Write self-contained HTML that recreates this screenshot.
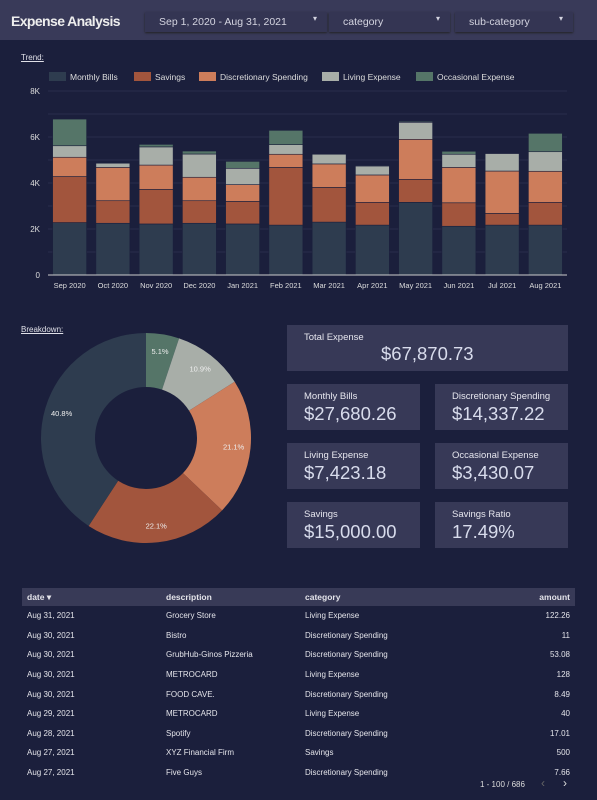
<!DOCTYPE html>
<html><head><meta charset="utf-8"><style>
*{box-sizing:border-box;margin:0;padding:0}
body{width:597px;height:800px;background:#1b1f3c;font-family:"Liberation Sans",sans-serif;color:#e4e4ea;position:relative;overflow:hidden}
.hdr{position:absolute;left:0;top:0;width:597px;height:40px;background:#393a59}
.title{position:absolute;left:11px;top:13px;font-size:14px;font-weight:bold;color:#eee;letter-spacing:-0.6px}
.dd{position:absolute;top:12px;height:20px;background:#343553;box-shadow:0 1px 2px #222;font-size:10.5px;color:#d4d4e0;padding:4px 0 0 14px}
.dd span{position:absolute;right:10px;top:2px;font-size:8px}
.lbl{position:absolute;font-size:8px;text-decoration:underline;color:#e0e0e8}
.card{position:absolute;background:#373957}
.card .t{position:absolute;left:17px;top:7px;font-size:9.5px;color:#e6e6ee}
.card .v{position:absolute;left:17px;top:19px;font-size:18.5px;color:#d8dcec}
table{position:absolute;left:22px;top:588px;width:553px;border-collapse:collapse;font-size:8px;color:#e4e4ea}
th{background:#383a57;height:18px;text-align:left;padding-left:5px;font-size:8.5px}
td{height:19.6px;padding-left:5px}
.r{text-align:right;padding-right:5px}
</style></head><body>
<div class="hdr"></div>
<div class="title">Expense Analysis</div>
<div class="dd" style="left:145px;width:182px">Sep 1, 2020 - Aug 31, 2021<span>▾</span></div>
<div class="dd" style="left:329px;width:121px">category<span>▾</span></div>
<div class="dd" style="left:455px;width:118px">sub-category<span>▾</span></div>
<div class="lbl" style="left:21px;top:53px">Trend:</div>
<svg id="bar" style="position:absolute;left:0;top:60px" width="597" height="240"></svg>
<div class="lbl" style="left:21px;top:325px">Breakdown:</div>
<svg id="donut" style="position:absolute;left:0;top:320px" width="290" height="240"></svg>
<div class="card" style="left:287px;top:325px;width:281px;height:46px"><div class="t">Total Expense</div><div class="v" style="left:94px;top:18px">$67,870.73</div></div>
<div class="card" style="left:287px;top:384px;width:133px;height:46px"><div class="t">Monthly Bills</div><div class="v">$27,680.26</div></div>
<div class="card" style="left:435px;top:384px;width:133px;height:46px"><div class="t">Discretionary Spending</div><div class="v">$14,337.22</div></div>
<div class="card" style="left:287px;top:443px;width:133px;height:46px"><div class="t">Living Expense</div><div class="v">$7,423.18</div></div>
<div class="card" style="left:435px;top:443px;width:133px;height:46px"><div class="t">Occasional Expense</div><div class="v">$3,430.07</div></div>
<div class="card" style="left:287px;top:502px;width:133px;height:46px"><div class="t">Savings</div><div class="v">$15,000.00</div></div>
<div class="card" style="left:435px;top:502px;width:133px;height:46px"><div class="t">Savings Ratio</div><div class="v">17.49%</div></div>
<table>
<tr><th style="width:139px">date ▾</th><th style="width:139px">description</th><th>category</th><th class="r">amount</th></tr>
<tr><td>Aug 31, 2021</td><td>Grocery Store</td><td>Living Expense</td><td class="r">122.26</td></tr>
<tr><td>Aug 30, 2021</td><td>Bistro</td><td>Discretionary Spending</td><td class="r">11</td></tr>
<tr><td>Aug 30, 2021</td><td>GrubHub-Ginos Pizzeria</td><td>Discretionary Spending</td><td class="r">53.08</td></tr>
<tr><td>Aug 30, 2021</td><td>METROCARD</td><td>Living Expense</td><td class="r">128</td></tr>
<tr><td>Aug 30, 2021</td><td>FOOD CAVE.</td><td>Discretionary Spending</td><td class="r">8.49</td></tr>
<tr><td>Aug 29, 2021</td><td>METROCARD</td><td>Living Expense</td><td class="r">40</td></tr>
<tr><td>Aug 28, 2021</td><td>Spotify</td><td>Discretionary Spending</td><td class="r">17.01</td></tr>
<tr><td>Aug 27, 2021</td><td>XYZ Financial Firm</td><td>Savings</td><td class="r">500</td></tr>
<tr><td>Aug 27, 2021</td><td>Five Guys</td><td>Discretionary Spending</td><td class="r">7.66</td></tr>
</table>
<div style="position:absolute;left:480px;top:780px;font-size:8px;color:#ddd">1 - 100 / 686</div>
<div style="position:absolute;left:541px;top:776px;font-size:12px;color:#666">‹</div>
<div style="position:absolute;left:563px;top:776px;font-size:12px;color:#ddd">›</div>
<script>
const months=["Sep 2020","Oct 2020","Nov 2020","Dec 2020","Jan 2021","Feb 2021","Mar 2021","Apr 2021","May 2021","Jun 2021","Jul 2021","Aug 2021"];
const seriesNames=["Monthly Bills","Savings","Discretionary Spending","Living Expense","Occasional Expense"];
const colors=["#2e3c4f","#a2553d","#cd7d5b","#a8aea8","#557568"];
const monthlyBills=[2280,2250,2220,2250,2220,2170,2300,2170,3160,2120,2170,2170];
const savings=[2000,980,1500,980,980,2510,1510,990,1000,1020,510,990];
const discretionary=[840,1450,1060,1020,730,570,1020,1190,1740,1540,1840,1350];
const living=[500,180,790,1010,710,420,420,390,740,570,760,850];
const occasional=[1160,0,110,130,300,620,0,30,40,130,0,800];
const yTicks=[0,2000,4000,6000,8000];
const yTickLabels=["0","2K","4K","6K","8K"];
const donutValues=[5.1,10.9,21.1,22.1,40.8];
const donutColors=["#557568","#a8aea8","#cd7d5b","#a2553d","#2e3c4f"];
const ns="http://www.w3.org/2000/svg";
function mk(p,t,a){const e=document.createElementNS(ns,t);for(const k in a)e.setAttribute(k,a[k]);p.appendChild(e);return e;}
const svg=document.getElementById('bar');
const x0=48,x1=567,yb=215,yt=31,ymax=8000;
const y=v=>yb-(v/ymax)*(yb-yt);
const band=(x1-x0)/months.length;
const xc=i=>x0+band*(i+0.5);
for(let v=1000;v<=8000;v+=1000){const g=mk(svg,'line',{x1:x0,x2:x1,y1:y(v),y2:y(v),stroke:'#2a2e4c','stroke-width':1});}
yTicks.forEach((v,i)=>{const t=mk(svg,'text',{x:40,y:y(v)+3,'text-anchor':'end','font-size':8,fill:'#ddd'});t.textContent=yTickLabels[i];});
const all=[monthlyBills,savings,discretionary,living,occasional];
months.forEach((m,i)=>{let acc=0;all.forEach((s,k)=>{const v=s[i];if(v>0){const r=mk(svg,'rect',{x:xc(i)-17,y:y(acc+v),width:34,height:y(acc)-y(acc+v),fill:colors[k],stroke:'#1b1f3c','stroke-width':0.6});}acc+=v;});
const t=mk(svg,'text',{x:xc(i),y:yb+13,'text-anchor':'middle','font-size':7.5,fill:'#ddd'});t.textContent=m;});
const ax=mk(svg,'line',{x1:x0,x2:x1,y1:yb,y2:yb,stroke:'#ccc','stroke-width':1});
const lx=[49,134,199,322,416];
seriesNames.forEach((n,k)=>{const r=mk(svg,'rect',{x:lx[k],y:12,width:17,height:9,fill:colors[k]});const t=mk(svg,'text',{x:lx[k]+21,y:20,'font-size':8.5,fill:'#ddd'});t.textContent=n;});
const d=document.getElementById('donut');
const cx=146,cy=118,R=105,r0=51;
const tot=donutValues.reduce((a,b)=>a+b,0);let a0=0;
donutValues.forEach((v,i)=>{const a1=a0+v/tot*2*Math.PI;const p=(a,rr)=>[cx+rr*Math.sin(a),cy-rr*Math.cos(a)];const lg=(a1-a0)>Math.PI?1:0;
const [ax1,ay1]=p(a0,R),[ax2,ay2]=p(a1,R),[bx2,by2]=p(a1,r0),[bx1,by1]=p(a0,r0);
const s=mk(d,'path',{d:`M${ax1},${ay1}A${R},${R} 0 ${lg} 1 ${ax2},${ay2}L${bx2},${by2}A${r0},${r0} 0 ${lg} 0 ${bx1},${by1}Z`,fill:donutColors[i]});
const am=(a0+a1)/2;const [tx,ty]=p(am,(R+r0)/2+10);const t=mk(d,'text',{x:tx,y:ty+3,'text-anchor':'middle','font-size':7.5,fill:'#eee'});t.textContent=v.toFixed(1)+'%';a0=a1;});
</script>
</body></html>
